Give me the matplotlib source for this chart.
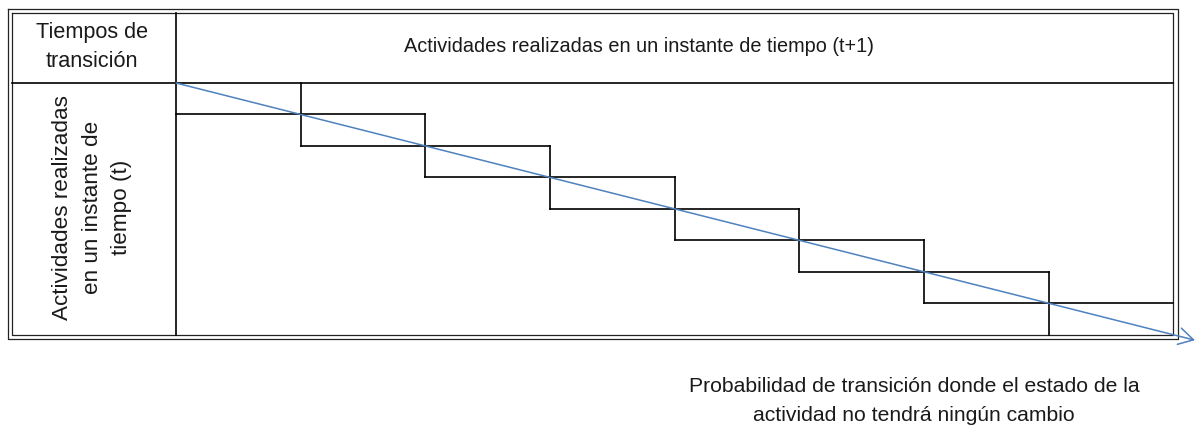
import numpy as np
import matplotlib
matplotlib.use('Agg')
import matplotlib.pyplot as plt

# textos del cuadro
corner_label = 'Tiempos de\ntransición'
top_label = 'Actividades realizadas en un instante de tiempo (t+1)'
side_label = 'Actividades realizadas\nen un instante de\ntiempo (t)'
arrow_label = 'Probabilidad de transición donde el estado de la\nactividad no tendrá ningún cambio'

# numero de estados de la escalera
n_states = 8

W, H = 1197, 428
plt.rcParams['font.family'] = ['Liberation Sans', 'DejaVu Sans']

fig = plt.figure(figsize=(W / 100, H / 100), dpi=100)
ax = fig.add_axes([0, 0, 1, 1])
ax.set_xlim(0, W)
ax.set_ylim(H, 0)
ax.axis('off')

# marco doble
x0, x1, y0, y1 = 8, 1177.5, 9, 339
ax.plot([x0, x1, x1, x0, x0], [y0, y0, y1, y1, y0], color='#222222', lw=0.9)
gap = 4.3
xi0, xi1, yi0, yi1 = x0 + gap, x1 - gap, y0 + gap, y1 - gap
ax.plot([xi0, xi1, xi1, xi0, xi0], [yi0, yi0, yi1, yi1, yi0], color='#222222', lw=0.9)

# divisiones de la tabla
col_x, row_y = 176, 83
ax.plot([col_x, col_x], [yi0, yi1], color='black', lw=1.2)
ax.plot([xi0, xi1], [row_y, row_y], color='black', lw=1.2)

# escalera
xs = np.linspace(col_x, xi1, n_states + 1)
ys = np.linspace(row_y, yi1, n_states + 1)
for i in range(n_states - 1):
    ax.plot([xs[i], xs[i + 2]], [ys[i + 1], ys[i + 1]], color='black', lw=1.2)
    ax.plot([xs[i + 1], xs[i + 1]], [ys[i], ys[i + 2]], color='black', lw=1.2)

# flecha diagonal
slope = (ys[-1] - ys[0]) / (xs[-1] - xs[0])
tip_x = 1195
tip_y = ys[0] + slope * (tip_x - xs[0])
ax.annotate('', xy=(tip_x, tip_y), xytext=(xs[0], ys[0]),
            arrowprops=dict(arrowstyle='->,head_length=0.7,head_width=0.4',
                            mutation_scale=15, color='#4f81bd', lw=1.1,
                            shrinkA=0, shrinkB=0))

txt = dict(color='#1a1a1a', ha='center', va='center',
           multialignment='center')
ax.text(92, 47, corner_label, fontsize=15.6, linespacing=1.55, **txt)
ax.text(639, 46, top_label, fontsize=14.3, **txt)
ax.text(92, 207.5, side_label, rotation=90, fontsize=16.2, linespacing=1.55, **txt)
ax.text(914, 401, arrow_label, fontsize=15.2, linespacing=1.62, **txt)

fig.savefig('out.png', dpi=100)
